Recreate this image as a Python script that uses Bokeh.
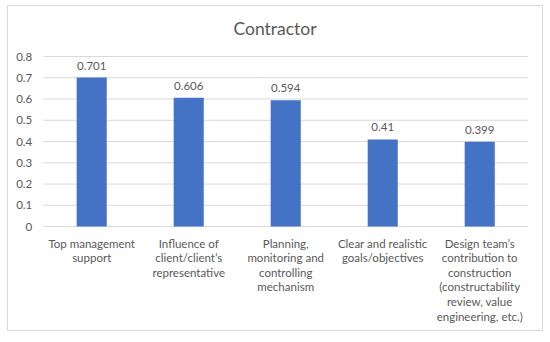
from bokeh.plotting import figure
from bokeh.models import Range1d, Label, ColumnDataSource
from bokeh.core.properties import value
from bokeh.embed import file_html
from bokeh.resources import INLINE

categories = [
    "Top management\nsupport",
    "Influence of\nclient/client\u2019s\nrepresentative",
    "Planning,\nmonitoring and\ncontrolling\nmechanism",
    "Clear and realistic\ngoals/objectives",
    "Design team\u2019s\ncontribution to\nconstruction\n(constructability\nreview, value\nengineering, etc.)",
]
values = [0.701, 0.606, 0.594, 0.41, 0.399]
labels = ["0.701", "0.606", "0.594", "0.41", "0.399"]
y_ticks = [0, 0.1, 0.2, 0.3, 0.4, 0.5, 0.6, 0.7, 0.8]
y_tick_labels = ["0", "0.1", "0.2", "0.3", "0.4", "0.5", "0.6", "0.7", "0.8"]
title_text = "Contractor"

FONT = "Lato"
GREY = "#595959"
GRID = "#D9D9D9"

n = len(categories)
xs = [i + 0.5 for i in range(n)]

src = ColumnDataSource(dict(x=xs, cat=categories, top=values, lab=labels, base=[0] * n))
grid_src = ColumnDataSource(dict(y=y_ticks, lab=y_tick_labels,
                                 x0=[0] * len(y_ticks), x1=[n] * len(y_ticks)))

p = figure(x_range=Range1d(-0.368, n + 0.147), y_range=Range1d(-0.489, 1.04),
           width=550, height=342, output_backend="svg", toolbar_location=None,
           min_border_left=7, min_border_right=8, min_border_top=5, min_border_bottom=12)
p.axis.visible = False
p.grid.visible = False
p.outline_line_color = GRID
p.outline_line_width = 1
p.background_fill_color = "white"
p.border_fill_color = "white"

# gridlines
p.segment(x0="x0", x1="x1", y0="y", y1="y", source=grid_src, line_color=GRID, line_width=1)
# y tick labels
p.text(x="x0", y="y", text="lab", source=grid_src, text_align="right", text_baseline="middle",
       x_offset=-11, text_font=value(FONT), text_font_size="11.5px", text_color=GREY)

# bars
p.vbar(x="x", top="top", width=0.31, source=src, color="#4472C4", line_color=None)
# data labels
p.text(x="x", y="top", text="lab", source=src, text_align="center", text_baseline="middle",
       y_offset=-12, text_font=value(FONT), text_font_size="11.5px", text_color=GREY)
# category labels
p.text(x="x", y="base", text="cat", source=src, text_align="center", text_baseline="top",
       y_offset=10, text_font=value(FONT), text_font_size="11.5px", text_color=GREY,
       text_line_height=1.124)

p.add_layout(Label(x=2.39, y=0.930, text=title_text, text_align="center", text_baseline="middle",
                   text_font=FONT, text_font_size="17.5px", text_color=GREY))

open("out.html", "w").write(file_html(p, INLINE))
